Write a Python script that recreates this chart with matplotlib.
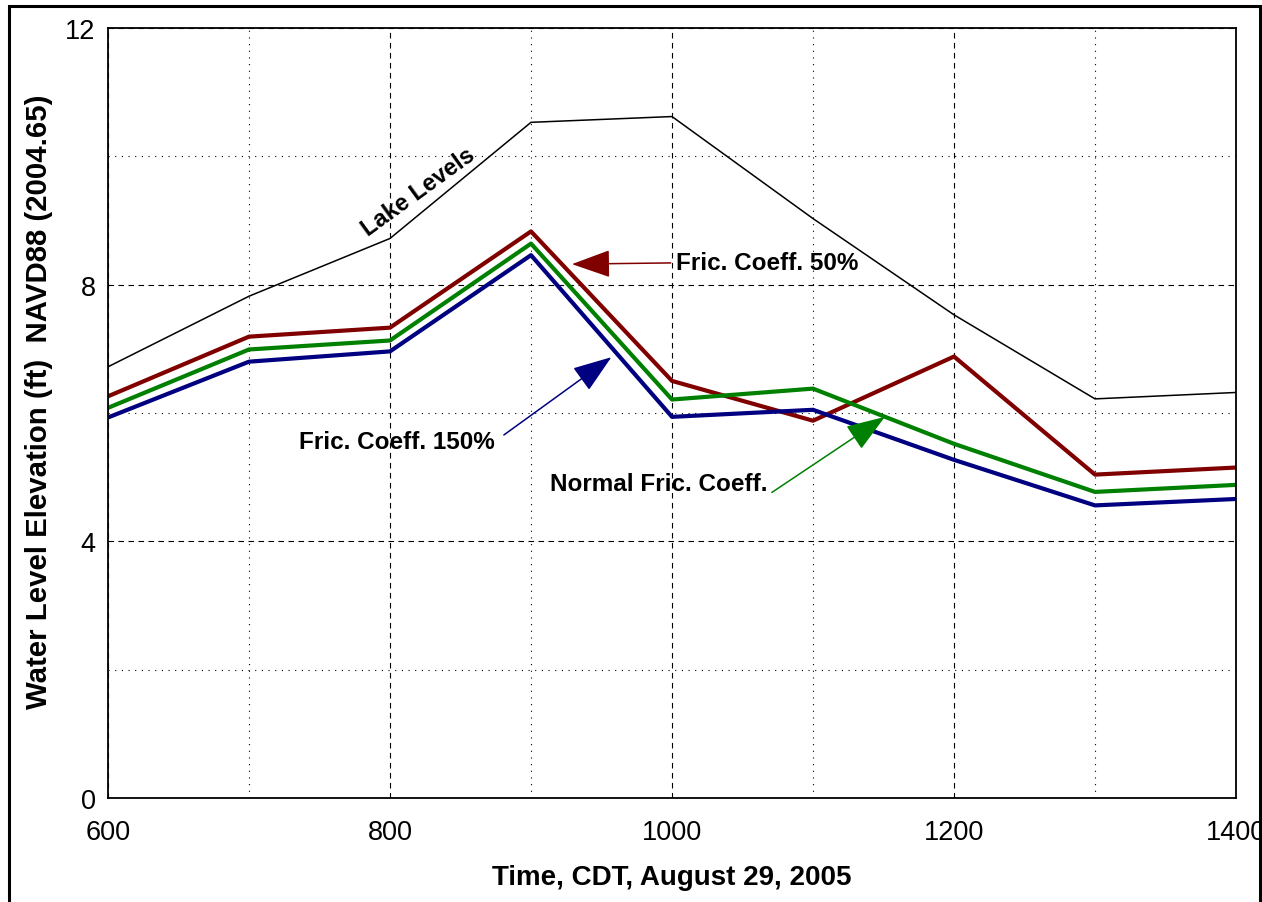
import matplotlib
matplotlib.use('Agg')
import matplotlib.pyplot as plt
from matplotlib.patches import Rectangle
from matplotlib.ticker import MultipleLocator

plt.rcParams['font.family'] = ['Liberation Sans', 'DejaVu Sans']

# time, CDT (hhmm)
times = [600, 700, 800, 900, 1000, 1100, 1200, 1300, 1400]
# water levels (ft NAVD88)
lake_levels = [6.72, 7.82, 8.72, 10.53, 10.62, 9.03, 7.53, 6.22, 6.32]
fric_50 = [6.26, 7.19, 7.33, 8.83, 6.50, 5.88, 6.88, 5.04, 5.15]
fric_normal = [6.08, 6.99, 7.13, 8.64, 6.21, 6.38, 5.52, 4.77, 4.88]
fric_150 = [5.93, 6.80, 6.96, 8.46, 5.94, 6.05, 5.27, 4.56, 4.66]

dark_red = '#800000'
green = '#008000'
navy = '#000080'

fig = plt.figure(figsize=(12.62, 9.03), dpi=100)
ax = fig.add_axes([108 / 1262, 1 - 799 / 903, (1236 - 108) / 1262, (799 - 29) / 903])

# outer frame around the whole figure
fig.patches.append(Rectangle((9 / 1262, -0.01), (1260 - 9) / 1262, 1 - 7 / 903 + 0.01,
                             transform=fig.transFigure, fill=False, lw=2.2,
                             edgecolor='black', clip_on=False))

ax.plot(times, lake_levels, color='black', lw=1.1)
ax.plot(times, fric_50, color=dark_red, lw=3)
ax.plot(times, fric_normal, color=green, lw=3)
ax.plot(times, fric_150, color=navy, lw=3)

ax.set_xlim(600, 1400)
ax.set_ylim(0, 12)
ax.xaxis.set_major_locator(MultipleLocator(200))
ax.xaxis.set_minor_locator(MultipleLocator(100))
ax.yaxis.set_major_locator(MultipleLocator(4))
ax.yaxis.set_minor_locator(MultipleLocator(2))
ax.grid(which='major', color='black', ls=(0, (5, 4)), lw=0.8)
ax.grid(which='minor', color='black', ls=(0, (1, 5)), lw=0.8)
ax.tick_params(which='both', length=0, labelsize=19.5)
ax.tick_params(axis='x', pad=15)
ax.tick_params(axis='y', pad=9)
for s in ax.spines.values():
    s.set_linewidth(1.3)

ax.set_xlabel('Time, CDT, August 29, 2005', fontsize=20, fontweight='bold')
ax.set_ylabel('Water Level Elevation (ft)  NAVD88 (2004.65)', fontsize=21.2,
              fontweight='bold')
ax.xaxis.label.set_va('center')
ax.yaxis.label.set_va('center')
ax.xaxis.set_label_coords(0.5, (799 - 878) / 770)
ax.yaxis.set_label_coords((39 - 108) / 1128, (799 - 402) / 770)

# annotations
ax.text(820, 9.46, 'Lake Levels', rotation=36, fontsize=17, fontweight='bold',
        ha='center', va='center')

head = '-|>,head_length=1.4,head_width=0.5'
ax.annotate('Fric. Coeff. 50%', xy=(929, 8.32), xytext=(1003, 8.34),
            fontsize=17.5, fontweight='bold', va='center', ha='left',
            arrowprops=dict(arrowstyle=head, color=dark_red, lw=1.1,
                            relpos=(0.0, 0.5), shrinkA=2, shrinkB=0))
ax.annotate('Fric. Coeff. 150%', xy=(957, 6.87), xytext=(874, 5.55),
            fontsize=17.5, fontweight='bold', va='center', ha='right',
            arrowprops=dict(arrowstyle=head, color=navy, lw=1.1,
                            relpos=(1.0, 0.5), shrinkA=6, shrinkB=0))
ax.annotate('Normal Fric. Coeff.', xy=(1151, 5.94), xytext=(1068, 4.9),
            fontsize=17.5, fontweight='bold', va='center', ha='right',
            arrowprops=dict(arrowstyle=head, color=green, lw=1.1,
                            relpos=(1.0, 0.0), shrinkA=1, shrinkB=0))

fig.savefig('out.png', dpi=100)
